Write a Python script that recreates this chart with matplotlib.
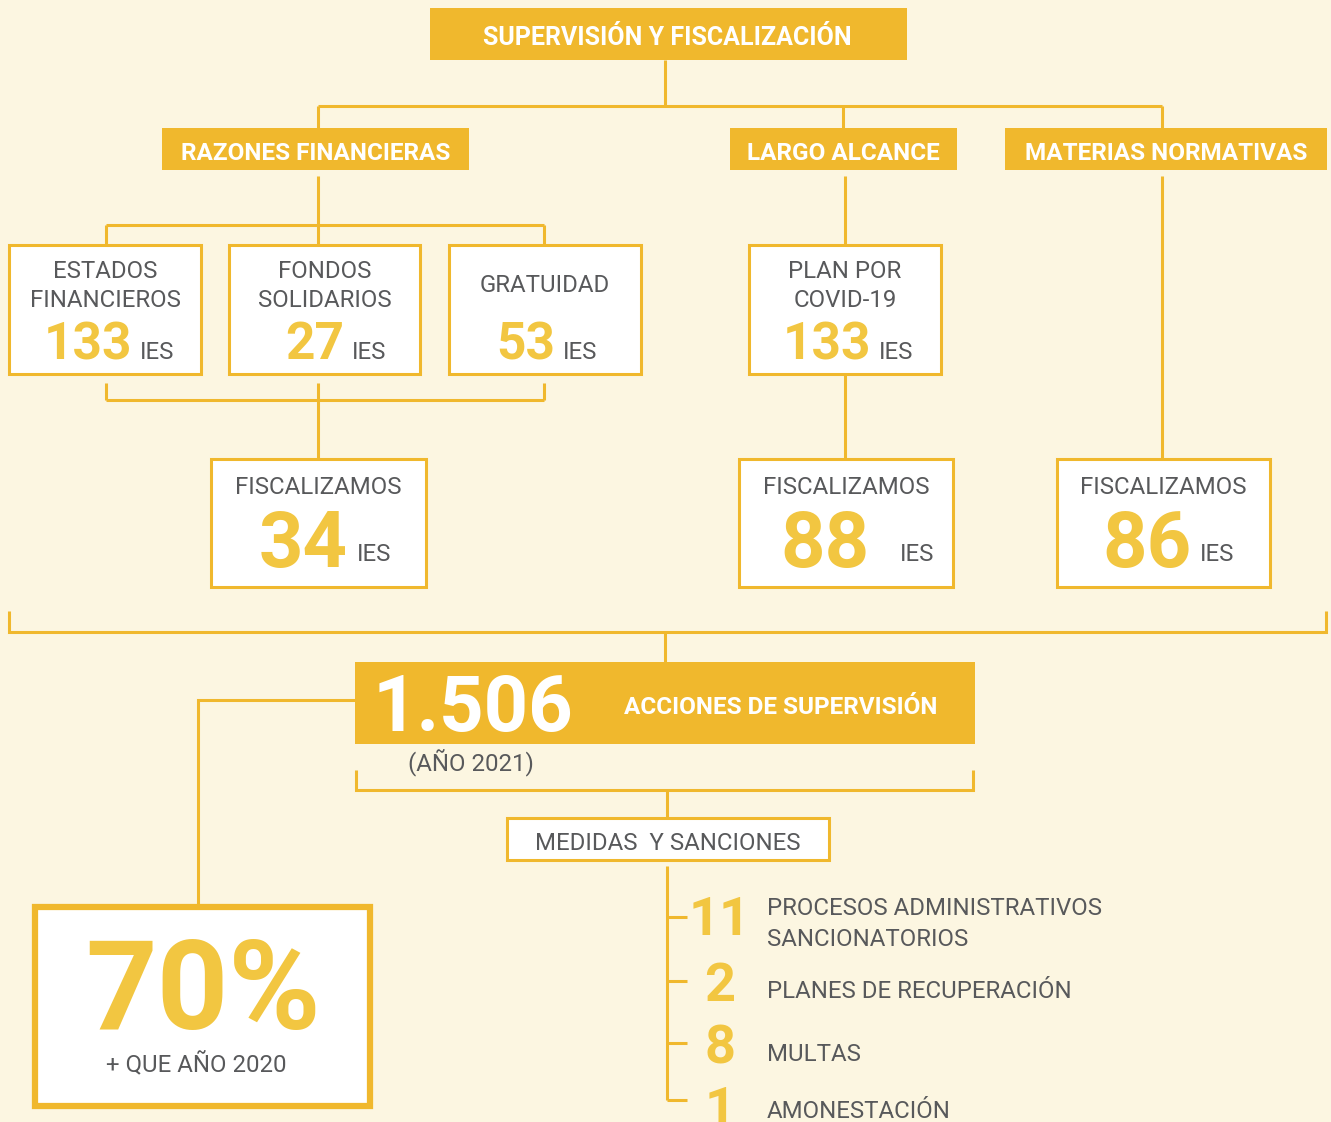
import matplotlib
matplotlib.use("Agg")
import matplotlib.pyplot as plt
from matplotlib.patches import Rectangle

plt.rcParams['font.family'] = ['Roboto', 'DejaVu Sans']

# ---------------- data ----------------
title = "SUPERVISIÓN Y FISCALIZACIÓN"
branches = ["RAZONES FINANCIERAS", "LARGO ALCANCE", "MATERIAS NORMATIVAS"]
sub_labels = ["ESTADOS\nFINANCIEROS", "FONDOS\nSOLIDARIOS", "GRATUIDAD", "PLAN POR\nCOVID-19"]
sub_values = [133, 27, 53, 133]
fisc_label = "FISCALIZAMOS"
fisc_values = [34, 88, 86]
unit = "IES"
total_value = "1.506"
total_label = "ACCIONES DE SUPERVISIÓN"
total_year = "(AÑO 2021)"
growth_value = "70%"
growth_label = "+ QUE AÑO 2020"
measures_title = "MEDIDAS  Y SANCIONES"
measure_values = [11, 2, 8, 1]
measure_labels = ["PROCESOS ADMINISTRATIVOS\nSANCIONATORIOS", "PLANES DE RECUPERACIÓN",
                  "MULTAS", "AMONESTACIÓN"]

# ---------------- style ----------------
BG = "#FCF6E1"
GOLD = "#F0B82D"
NUM = "#F2C641"
GRAY = "#58595B"
LW = 2.2
FS = 17.3   # regular gray text
HFS = 17.5  # bold header text

fig = plt.figure(figsize=(13.31, 11.22), dpi=100, facecolor=BG)
ax = fig.add_axes([0, 0, 1, 1])
ax.set_xlim(0, 1331)
ax.set_ylim(1122, 0)
ax.axis('off')
ax.set_facecolor(BG)


def line(xs, ys, lw=LW):
    ax.plot(xs, ys, color=GOLD, lw=lw, solid_capstyle='butt', solid_joinstyle='miter')


def box(x0, y0, x1, y1, fill=True, lw=LW, fc="white"):
    if fill:
        ax.add_patch(Rectangle((x0, y0), x1 - x0, y1 - y0, facecolor=GOLD, edgecolor='none'))
    else:
        ax.add_patch(Rectangle((x0, y0), x1 - x0, y1 - y0, facecolor=fc, edgecolor=GOLD, lw=lw))


# top title
box(430, 8, 907, 60)
ax.text(667, 45, title, color='white', fontsize=18, fontweight='bold', ha='center', va='baseline')
line([665, 665], [60, 106])
line([318, 1162], [106, 106])
branch_x = [318, 843, 1162]
branch_boxes = [(162, 469), (730, 957), (1005, 1327)]
for bx, (x0, x1), name in zip(branch_x, branch_boxes, branches):
    line([bx, bx], [106, 128])
    box(x0, 128, x1, 170)
    ax.text((x0 + x1) / 2, 160, name, color='white', fontsize=HFS, fontweight='bold',
            ha='center', va='baseline')

# razones financieras sub-tree
line([318, 318], [176, 245])
line([106, 544], [225, 225])
line([106, 106], [225, 245])
line([544, 544], [225, 245])
# largo alcance
line([845, 845], [176, 245])
line([845, 845], [374, 459])
# materias normativas
line([1162, 1162], [176, 459])

sub_boxes = [(9, 201), (229, 420), (449, 641), (749, 941)]
num_right = [132, 344, 555, 871]
for (x0, x1), lab, val, nr in zip(sub_boxes, sub_labels, sub_values, num_right):
    box(x0, 245, x1, 374, fill=False)
    cx = (x0 + x1) / 2
    if "\n" in lab:
        l1, l2 = lab.split("\n")
        ax.text(cx, 278, l1, color=GRAY, fontsize=FS, ha='center', va='baseline')
        ax.text(cx, 307, l2, color=GRAY, fontsize=FS, ha='center', va='baseline')
    else:
        ax.text(cx, 292, lab, color=GRAY, fontsize=FS, ha='center', va='baseline')
    ax.text(nr, 359, str(val), color=NUM, fontsize=37, fontweight='bold', ha='right', va='baseline')
    ax.text(nr + 8, 359, unit, color=GRAY, fontsize=FS, ha='left', va='baseline')

# bracket under the three razones boxes
for bx in [106, 318, 544]:
    line([bx, bx], [383, 400])
line([106, 544], [400, 400])
line([318, 318], [400, 459])

fisc_boxes = [(211, 426), (739, 953), (1057, 1270)]
fisc_num_right = [348, 870, 1192]
fisc_unit_left = [357, 900, 1200]
for (x0, x1), val, nr, ul in zip(fisc_boxes, fisc_values, fisc_num_right, fisc_unit_left):
    box(x0, 459, x1, 587, fill=False)
    ax.text((x0 + x1) / 2, 494, fisc_label, color=GRAY, fontsize=FS, ha='center', va='baseline')
    ax.text(nr, 567, str(val), color=NUM, fontsize=56, fontweight='bold', ha='right', va='baseline')
    ax.text(ul, 561, unit, color=GRAY, fontsize=FS, ha='left', va='baseline')

# big bracket
line([9, 9, 1326, 1326], [611, 632, 632, 611])
line([665, 665], [632, 662])

# total box
box(355, 662, 975, 744)
ax.text(373, 731, total_value, color='white', fontsize=56, fontweight='bold', ha='left', va='baseline')
ax.text(781, 714, total_label, color='white', fontsize=HFS, fontweight='bold', ha='center', va='baseline')
ax.text(471, 770, total_year, color=GRAY, fontsize=FS, ha='center', va='baseline')

# connector to 70% box
line([355, 198, 198], [700, 700, 907])
ax.add_patch(Rectangle((35, 907), 335, 199, facecolor='white', edgecolor=GOLD, lw=4.5))
ax.text(203, 1029, growth_value, color=NUM, fontsize=90, fontweight='bold', ha='center', va='baseline')
ax.text(196, 1071, growth_label, color=GRAY, fontsize=FS, ha='center', va='baseline')

# bracket under total
line([356, 356, 973, 973], [770, 790, 790, 770])
line([667, 667], [790, 818])
box(507, 818, 829, 860, fill=False)
ax.text(668, 850, measures_title, color=GRAY, fontsize=FS, ha='center', va='baseline')

# measures list
tick_y = [917, 981, 1043, 1100]
num_base = [935, 1001, 1064, 1125]
lab_base = [915, 998, 1061, 1118]
line([667, 667], [866, 1100])
for ty, nb, lb, val, lab in zip(tick_y, num_base, lab_base, measure_values, measure_labels):
    line([667, 687], [ty, ty])
    ax.text(720, nb, str(val), color=NUM, fontsize=39, fontweight='bold', ha='center', va='baseline')
    if "\n" in lab:
        l1, l2 = lab.split("\n")
        ax.text(767, lb, l1, color=GRAY, fontsize=FS, ha='left', va='baseline')
        ax.text(767, lb + 31, l2, color=GRAY, fontsize=FS, ha='left', va='baseline')
    else:
        ax.text(767, lb, lab, color=GRAY, fontsize=FS, ha='left', va='baseline')

fig.savefig("out.png", dpi=100, facecolor=BG)
